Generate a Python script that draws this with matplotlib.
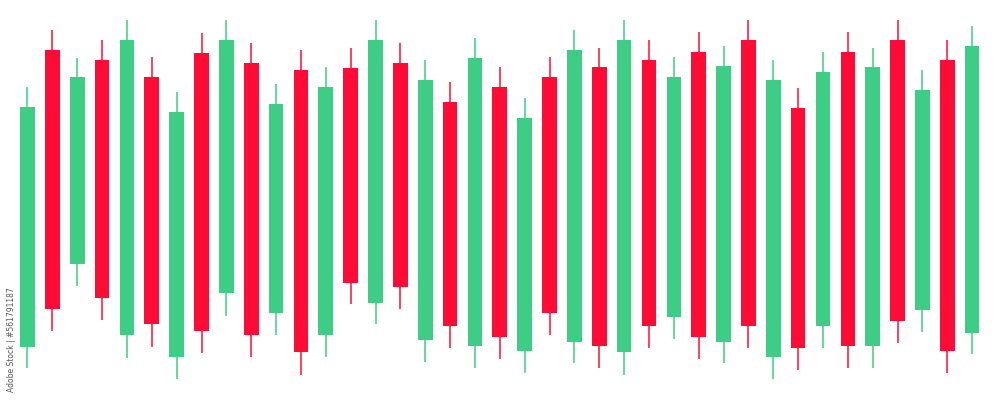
import matplotlib
matplotlib.use("Agg")
import matplotlib.pyplot as plt
import numpy as np

# OHLC values (arbitrary price units)
opens = [53, 350, 136, 340, 65, 323, 43, 347, 107, 337,
         87, 330, 65, 332, 97, 337, 60, 298, 54, 313,
         49, 323, 58, 333, 48, 340, 83, 348, 58, 360,
         43, 292, 74, 348, 54, 360, 90, 340, 67]
highs = [313, 370, 342, 360, 380, 343, 308, 367, 380, 357,
         316, 350, 333, 352, 380, 357, 340, 318, 362, 333,
         302, 343, 370, 352, 380, 360, 343, 368, 354, 380,
         340, 312, 348, 368, 352, 380, 330, 360, 374]
lows = [32, 69, 114, 80, 42, 53, 21, 47, 84, 43,
        65, 25, 43, 96, 76, 91, 38, 52, 32, 41,
        27, 65, 37, 32, 25, 52, 61, 41, 37, 52,
        21, 30, 52, 32, 32, 57, 68, 27, 46]
closes = [293, 91, 323, 102, 360, 76, 288, 69, 360, 65,
          296, 48, 313, 117, 360, 113, 320, 74, 342, 63,
          282, 87, 350, 54, 360, 74, 323, 63, 334, 74,
          320, 52, 328, 54, 333, 79, 310, 49, 354]

green = "#3ecd84"
red = "#ff0c36"

o = np.array(opens)
h = np.array(highs)
l = np.array(lows)
c = np.array(closes)
x = np.arange(len(o))
colors = np.where(c >= o, green, red)

fig = plt.figure(figsize=(10, 4), dpi=100)
ax = fig.add_axes([0, 0, 1, 1])

# wicks then bodies
ax.vlines(x, l, h, colors=colors, linewidth=1.1, zorder=1)
ax.bar(x, c - o, bottom=o, width=0.59, color=colors, linewidth=0, zorder=2)

ax.set_xlim(-1.106, 39.12)
ax.set_ylim(0, 400)
ax.axis("off")

# stock watermark caption along the left edge
ax.text(0.012, 0.15, "Adobe Stock | #561791187", transform=ax.transAxes,
        rotation=90, fontsize=5.5, color="#555555", ha="center", va="center")

fig.savefig("out.png", dpi=100, facecolor="white")
